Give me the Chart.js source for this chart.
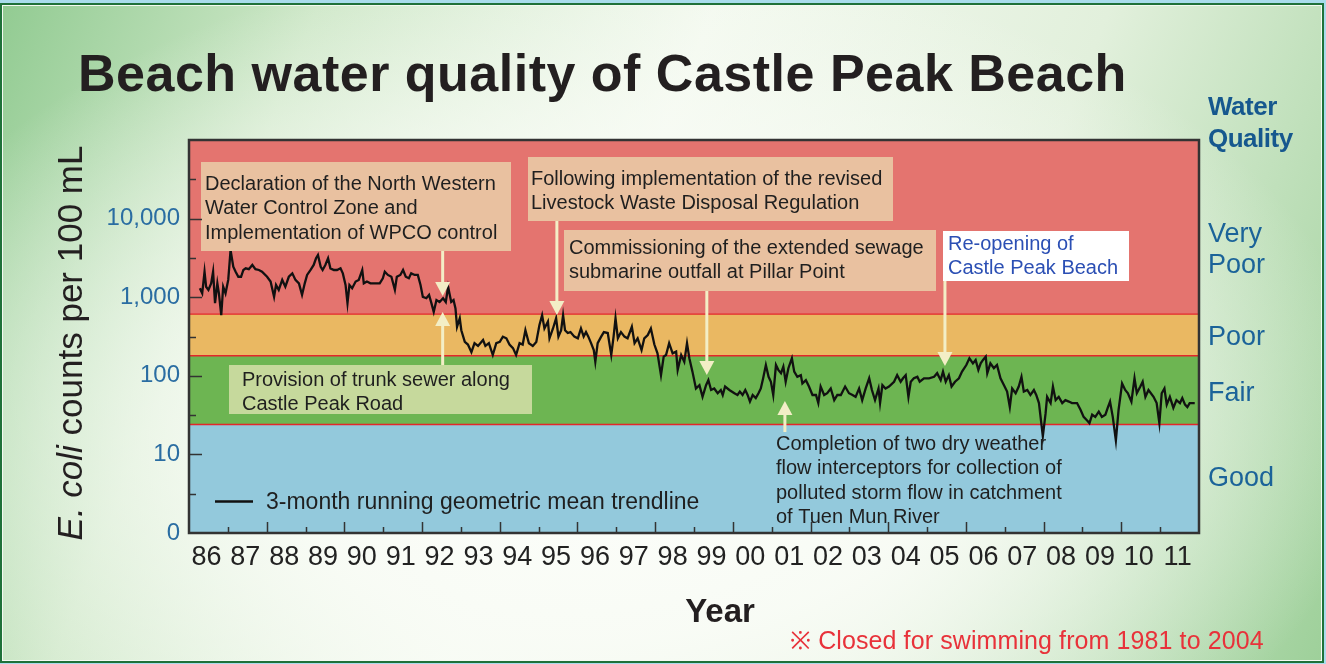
<!DOCTYPE html>
<html>
<head>
<meta charset="utf-8">
<title>Beach water quality of Castle Peak Beach</title>
<script src="https://cdn.jsdelivr.net/npm/chart.js@4.4.1/dist/chart.umd.min.js"></script>
<style>
  html, body { margin: 0; padding: 0; }
  body { position: relative; width: 1326px; height: 664px; overflow: hidden; background: #a9dcec; }
  .frame {
    position: absolute; left: 0; top: 3px; width: 1320px; height: 656px;
    border: 2px solid #1f7139;
    box-shadow: inset 0 0 0 1px #f4faf2;
    background:
      radial-gradient(ellipse 58% 72% at 46% 64%, rgba(253,254,251,1) 0%, rgba(249,252,246,0.95) 45%, rgba(249,252,246,0) 100%),
      linear-gradient(112deg, #92cb92 0%, #cfe8c9 20%, #f3f9ef 45%, #e2f0dc 70%, #9ed09a 100%);
  }
  #chartTrend { position: absolute; left: 0; top: 0; }
</style>
</head>
<body>
<div class="frame"></div>
<canvas id="chartTrend" width="1326" height="664"></canvas>
<script>
/**
 * Castle Peak Beach - E. coli trend (3-month running geometric mean)
 */

// x axis: one label per year, printed in the middle of that year
const yearLabels = ['86', '87', '88', '89', '90', '91', '92', '93', '94', '95', '96', '97', '98',
  '99', '00', '01', '02', '03', '04', '05', '06', '07', '08', '09', '10', '11'];
const firstYear = 1986;

// y axis (log) - the bottom line is labelled 0
const yTickValues = [1, 10, 100, 1000, 10000];
const yTickLabels = ['0', '10', '100', '1,000', '10,000'];
const yMinorTicks = [3.16, 31.6, 316, 3160, 31600];

// grading limits (E. coli per 100 mL): Good | Fair | Poor | Very Poor
const gradeLimits = [24, 180, 610];
const gradeColors = ['#93c9dc', '#6db552', '#eab862', '#e4746f'];

// trendline (decimal year, counts per 100 mL)
const trendYears = [
  1986.28, 1986.34, 1986.40, 1986.44, 1986.50, 1986.57, 1986.62, 1986.67, 1986.73, 1986.77, 1986.83, 1986.88, 1986.94,
  1987.01, 1987.07, 1987.14, 1987.20, 1987.27, 1987.34, 1987.40, 1987.46, 1987.54, 1987.63, 1987.71, 1987.80, 1987.88,
  1988.01, 1988.10, 1988.19, 1988.24, 1988.31, 1988.40, 1988.48, 1988.57, 1988.66, 1988.74, 1988.83, 1988.91, 1988.98,
  1989.04, 1989.13, 1989.21, 1989.27, 1989.32, 1989.39, 1989.44, 1989.51, 1989.58, 1989.64, 1989.73, 1989.81, 1989.90, 1989.96,
  1990.03, 1990.08, 1990.13, 1990.20, 1990.29, 1990.37, 1990.46, 1990.50, 1990.58, 1990.67, 1990.91, 1990.99,
  1991.04, 1991.12, 1991.21, 1991.30, 1991.35, 1991.44, 1991.51, 1991.58, 1991.66, 1991.72, 1991.81, 1991.89, 1991.96,
  1992.02, 1992.11, 1992.18, 1992.24, 1992.30, 1992.37, 1992.45, 1992.54, 1992.61, 1992.67, 1992.75, 1992.81, 1992.86, 1992.90, 1992.97,
  1993.01, 1993.10, 1993.18, 1993.27, 1993.35, 1993.44, 1993.57, 1993.63, 1993.72, 1993.82, 1993.91,
  1994.00, 1994.08, 1994.17, 1994.25, 1994.34, 1994.42, 1994.51, 1994.59, 1994.66, 1994.75, 1994.85, 1994.94,
  1995.02, 1995.09, 1995.15, 1995.24, 1995.28, 1995.37, 1995.45, 1995.51, 1995.58, 1995.63, 1995.68, 1995.75, 1995.82, 1995.92,
  1996.01, 1996.09, 1996.16, 1996.22, 1996.28, 1996.35, 1996.42, 1996.46, 1996.52, 1996.61, 1996.68, 1996.78, 1996.87, 1996.93, 1996.98,
  1997.04, 1997.12, 1997.21, 1997.29, 1997.40, 1997.47, 1997.55, 1997.65, 1997.72, 1997.81, 1997.89, 1997.98,
  1998.06, 1998.15, 1998.22, 1998.28, 1998.36, 1998.45, 1998.54, 1998.58, 1998.67, 1998.75, 1998.82, 1998.88, 1998.96,
  1999.05, 1999.14, 1999.22, 1999.31, 1999.37, 1999.44, 1999.52, 1999.61, 1999.69, 1999.74, 1999.80, 1999.91,
  2000.04, 2000.12, 2000.18, 2000.25, 2000.32, 2000.38, 2000.44, 2000.51, 2000.59, 2000.66, 2000.72, 2000.78, 2000.85, 2000.92, 2000.98,
  2001.04, 2001.11, 2001.17, 2001.24, 2001.30, 2001.36, 2001.43, 2001.52, 2001.58, 2001.66, 2001.75, 2001.79, 2001.88, 2001.96,
  2002.05, 2002.14, 2002.20, 2002.26, 2002.35, 2002.43, 2002.52, 2002.61, 2002.69, 2002.78, 2002.89, 2002.99,
  2003.08, 2003.16, 2003.25, 2003.33, 2003.42, 2003.51, 2003.58, 2003.66, 2003.75, 2003.79, 2003.85, 2003.93,
  2004.02, 2004.15, 2004.23, 2004.32, 2004.38, 2004.45, 2004.52, 2004.58, 2004.66, 2004.75, 2004.81, 2004.92,
  2005.05, 2005.18, 2005.26, 2005.35, 2005.41, 2005.48, 2005.56, 2005.63, 2005.72, 2005.82, 2005.90,
  2006.01, 2006.09, 2006.18, 2006.25, 2006.32, 2006.38, 2006.44, 2006.51, 2006.55, 2006.63, 2006.72, 2006.80, 2006.89, 2006.98,
  2007.06, 2007.13, 2007.19, 2007.28, 2007.36, 2007.43, 2007.49, 2007.58, 2007.66, 2007.75, 2007.81, 2007.88, 2007.98,
  2008.05, 2008.09, 2008.18, 2008.24, 2008.31, 2008.39, 2008.48, 2008.56, 2008.65, 2008.73, 2008.86, 2008.95,
  2009.03, 2009.12, 2009.18, 2009.25, 2009.33, 2009.42, 2009.50, 2009.59, 2009.65, 2009.71, 2009.78, 2009.86, 2009.93,
  2010.02, 2010.10, 2010.17, 2010.26, 2010.34, 2010.40, 2010.49, 2010.55, 2010.62, 2010.70, 2010.83, 2010.91, 2010.98,
  2011.04, 2011.11, 2011.17, 2011.25, 2011.34, 2011.42, 2011.51, 2011.57, 2011.64, 2011.70, 2011.76, 2011.89
];
const trendCounts = [
  1300, 1120, 2110, 1360, 1240, 1500, 2110, 840, 1500, 1120, 590, 1360, 1120,
  1660, 3980, 2440, 2110, 1820, 1820, 2220, 2330, 2270, 2570, 2270, 2220, 2110,
  1820, 1580, 1010, 1430, 1240, 1660, 1360, 1820, 2010, 1660, 1500, 1070, 1500,
  1920, 2220, 2570, 3130, 3440, 2440, 2220, 2570, 3130, 2330, 2220, 2220, 2330, 2010,
  1430, 840, 1430, 1300, 1580, 1660, 2220, 1500, 1580, 1500, 1500, 1740,
  2110, 1920, 1820, 1240, 1820, 1920, 2220, 1820, 1740, 2010, 1920, 1920, 1430,
  1010, 970, 1070, 840, 650, 920, 870, 970, 870, 1360, 870, 920, 720, 420, 540,
  380, 270, 250, 200, 260, 240, 285, 240, 260, 184, 260,
  270, 315, 300, 250, 225, 184, 260, 250, 380, 260, 240, 270,
  440, 590, 400, 490, 300, 400, 540, 315, 380, 590, 380, 350, 360, 315,
  300, 400, 315, 360, 315, 260, 213, 151, 260, 315, 360, 350, 184, 315, 540,
  300, 360, 315, 300, 420, 260, 300, 213, 300, 330, 400, 250,
  193, 102, 175, 184, 260, 193, 203, 119, 184, 151, 260, 167, 113,
  69, 76, 54, 76, 88, 66, 69, 60, 66, 57, 73, 66,
  60, 57, 63, 57, 66, 57, 47, 57, 52, 60, 69, 93, 137, 97, 84,
  57, 137, 119, 108, 131, 84, 125, 167, 113, 97, 102, 80, 88, 73,
  57, 57, 45, 73, 57, 60, 69, 49, 57, 57, 73, 60,
  57, 54, 69, 49, 69, 93, 66, 49, 69, 45, 76, 69,
  73, 84, 102, 84, 93, 102, 54, 84, 93, 97, 84, 93,
  93, 97, 108, 88, 113, 84, 102, 73, 84, 93, 113,
  137, 167, 144, 159, 119, 144, 159, 175, 108, 144, 125, 137, 93, 76,
  63, 40, 69, 60, 73, 97, 63, 66, 57, 66, 57, 45, 17,
  33, 54, 45, 73, 49, 54, 45, 49, 47, 45, 45, 37,
  30, 27, 25, 32, 30, 35, 30, 32, 39, 47, 30, 15, 37,
  80, 66, 60, 47, 93, 60, 73, 84, 54, 66, 54, 45, 25,
  60, 69, 43, 54, 39, 49, 45, 52, 43, 40, 45, 45
];

// event call-outs on the chart (layout only)
const callouts = [
  { lines: ['Declaration of the North Western', 'Water Control Zone and', 'Implementation of WPCO control'],
    box: [201, 162, 511, 251], fill: '#e9c1a0', color: '#1f1f1f', textX: 205, baseline: 190 },
  { lines: ['Following implementation of the revised', 'Livestock Waste Disposal Regulation'],
    box: [528, 157, 893, 221], fill: '#e9c1a0', color: '#1f1f1f', textX: 531, baseline: 185 },
  { lines: ['Commissioning of the extended sewage', 'submarine outfall at Pillar Point'],
    box: [564, 230, 936, 291], fill: '#e9c1a0', color: '#1f1f1f', textX: 569, baseline: 254 },
  { lines: ['Re-opening of', 'Castle Peak Beach'],
    box: [943, 231, 1129, 281], fill: '#ffffff', color: '#2b4fb4', textX: 948, baseline: 250 },
  { lines: ['Provision of trunk sewer along', 'Castle Peak Road'],
    box: [229, 365, 532, 414], fill: '#c6d99c', color: '#1f1f1f', textX: 242, baseline: 386 },
  { lines: ['Completion of two dry weather', 'flow interceptors for collection of', 'polluted storm flow in catchment', 'of Tuen Mun River'],
    box: null, color: '#1f1f1f', textX: 776, baseline: 450 }
];
// arrows: x in years, y in pixels (start -> tip)
const arrows = [
  { year: 1992.53, from: 251, to: 296 },
  { year: 1992.53, from: 365, to: 312 },
  { year: 1995.47, from: 221, to: 315 },
  { year: 1999.33, from: 291, to: 375 },
  { year: 2005.46, from: 281, to: 366 },
  { year: 2001.34, from: 432, to: 401 }
];

const FONT = '"Liberation Sans", Arial, Helvetica, sans-serif';
const NARROW = '"Liberation Sans Narrow", "Arial Narrow", "Liberation Sans", Arial, sans-serif';

function drawArrow(ctx, x, from, to) {
  const dir = to > from ? 1 : -1;
  const head = 14;
  ctx.strokeStyle = '#f3eec6';
  ctx.fillStyle = '#f3eec6';
  ctx.lineWidth = 3;
  ctx.beginPath();
  ctx.moveTo(x, from);
  ctx.lineTo(x, to - dir * head);
  ctx.stroke();
  ctx.beginPath();
  ctx.moveTo(x - 7.5, to - dir * head);
  ctx.lineTo(x + 7.5, to - dir * head);
  ctx.lineTo(x, to);
  ctx.closePath();
  ctx.fill();
}

const bandsPlugin = {
  id: 'bands',
  beforeDatasetsDraw(chart) {
    const { ctx, chartArea: a, scales: { y } } = chart;
    const edges = [y.min, ...gradeLimits, y.max].map(v => y.getPixelForValue(v));
    ctx.save();
    for (let i = 0; i < gradeColors.length; i++) {
      ctx.fillStyle = gradeColors[i];
      ctx.fillRect(a.left, edges[i + 1], a.right - a.left, edges[i] - edges[i + 1]);
    }
    ctx.strokeStyle = '#e3262a';
    ctx.lineWidth = 1.3;
    gradeLimits.forEach(v => {
      const py = y.getPixelForValue(v);
      ctx.beginPath();
      ctx.moveTo(a.left, py);
      ctx.lineTo(a.right, py);
      ctx.stroke();
    });
    ctx.restore();
  }
};

const decorPlugin = {
  id: 'decor',
  afterDatasetsDraw(chart) {
    const { ctx, chartArea: a, scales: { x, y } } = chart;
    ctx.save();

    // arrows first, boxes sit on top of their tails
    arrows.forEach(ar => drawArrow(ctx, x.getPixelForValue(ar.year), ar.from, ar.to));

    ctx.font = '20px ' + FONT;
    ctx.textBaseline = 'alphabetic';
    ctx.textAlign = 'left';
    callouts.forEach(c => {
      if (c.box) {
        ctx.fillStyle = c.fill;
        ctx.fillRect(c.box[0], c.box[1], c.box[2] - c.box[0], c.box[3] - c.box[1]);
      }
      ctx.fillStyle = c.color;
      c.lines.forEach((line, i) => ctx.fillText(line, c.textX, c.baseline + i * 24.4));
    });

    // legend inside the plot
    ctx.strokeStyle = '#111';
    ctx.lineWidth = 2.5;
    ctx.beginPath();
    ctx.moveTo(215, 501.5);
    ctx.lineTo(253, 501.5);
    ctx.stroke();
    ctx.fillStyle = '#1f1f1f';
    ctx.font = '23px ' + FONT;
    ctx.fillText(chart.data.datasets[0].label, 266, 509);

    // inward tick marks
    ctx.strokeStyle = '#333';
    ctx.lineWidth = 1.5;
    for (let yr = firstYear + 1; yr < firstYear + yearLabels.length; yr++) {
      const px = Math.round(x.getPixelForValue(yr)) + 0.5;
      const len = yr % 2 === 0 ? 11 : 6;
      ctx.beginPath();
      ctx.moveTo(px, a.bottom);
      ctx.lineTo(px, a.bottom - len);
      ctx.stroke();
    }
    yTickValues.slice(1).forEach(v => {
      const py = Math.round(y.getPixelForValue(v)) + 0.5;
      ctx.beginPath();
      ctx.moveTo(a.left, py);
      ctx.lineTo(a.left + 13, py);
      ctx.stroke();
    });
    yMinorTicks.forEach(v => {
      const py = Math.round(y.getPixelForValue(v)) + 0.5;
      ctx.beginPath();
      ctx.moveTo(a.left, py);
      ctx.lineTo(a.left + 7, py);
      ctx.stroke();
    });

    // plot frame
    ctx.strokeStyle = '#333';
    ctx.lineWidth = 2.5;
    ctx.strokeRect(a.left, a.top, a.right - a.left, a.bottom - a.top);
    ctx.restore();
  },
  afterDraw(chart) {
    const { ctx } = chart;
    ctx.save();
    ctx.textAlign = 'left';
    ctx.textBaseline = 'alphabetic';

    // title
    ctx.fillStyle = '#231f20';
    ctx.font = 'bold 52px ' + FONT;
    ctx.letterSpacing = '0.5px';
    ctx.fillText('Beach water quality of Castle Peak Beach', 78, 91);
    ctx.letterSpacing = '0px';

    // y axis title, "E. coli" in italics
    ctx.translate(82, 343);
    ctx.rotate(-Math.PI / 2);
    const italicPart = 'E. coli';
    const plainPart = ' counts per 100 mL';
    ctx.font = 'italic 35px ' + FONT;
    const w1 = ctx.measureText(italicPart).width;
    ctx.font = '35px ' + FONT;
    const w2 = ctx.measureText(plainPart).width;
    const start = -(w1 + w2) / 2;
    ctx.font = 'italic 35px ' + FONT;
    ctx.fillText(italicPart, start, 0);
    ctx.font = '35px ' + FONT;
    ctx.fillText(plainPart, start + w1, 0);
    ctx.setTransform(1, 0, 0, 1, 0, 0);

    // x axis title
    ctx.textAlign = 'center';
    ctx.font = 'bold 33px ' + FONT;
    ctx.fillText('Year', 720, 622);

    // grade names on the right
    ctx.textAlign = 'left';
    ctx.fillStyle = '#16588e';
    ctx.font = 'bold 26px ' + FONT;
    ctx.letterSpacing = '-0.5px';
    ctx.fillText('Water', 1208, 115);
    ctx.fillText('Quality', 1208, 147);
    ctx.letterSpacing = '0px';
    ctx.fillStyle = '#1b6399';
    ctx.font = '27px ' + FONT;
    [['Very', 242], ['Poor', 273], ['Poor', 345], ['Fair', 401], ['Good', 486]]
      .forEach(([t, by]) => ctx.fillText(t, 1208, by));

    // footnote
    ctx.fillStyle = '#e8323a';
    ctx.font = '25px ' + FONT;
    ctx.letterSpacing = '0.1px';
    ctx.fillText('\u203B Closed for swimming from 1981 to 2004', 790, 649);
    ctx.restore();
  }
};

function renderTrendChart() {
  const ctx = document.getElementById('chartTrend');
  if (!ctx) return;
  const points = trendYears.map((yr, i) => ({ x: yr, y: trendCounts[i] }));

  new Chart(ctx, {
    type: 'line',
    data: {
      datasets: [{
        label: '3-month running geometric mean trendline',
        data: points,
        borderColor: '#111111',
        borderWidth: 2.3,
        pointRadius: 0,
        tension: 0,
        fill: false
      }]
    },
    options: {
      responsive: false,
      animation: false,
      events: [],
      layout: { padding: { top: 140, right: 127, bottom: 0, left: 0 } },
      plugins: {
        legend: { display: false },
        tooltip: { enabled: false }
      },
      scales: {
        x: {
          type: 'linear',
          min: firstYear,
          max: firstYear + yearLabels.length,
          afterBuildTicks: scale => {
            scale.ticks = yearLabels.map((_, i) => ({ value: firstYear + i + 0.45 }));
          },
          afterFit: scale => { scale.height = 131; },
          ticks: {
            autoSkip: false,
            maxRotation: 0,
            minRotation: 0,
            padding: 8,
            color: '#222',
            font: { family: NARROW, size: 27 },
            callback: (value, index) => yearLabels[index]
          },
          grid: { display: false, drawTicks: false },
          border: { display: false }
        },
        y: {
          type: 'logarithmic',
          min: 1,
          max: 100000,
          afterBuildTicks: scale => {
            scale.ticks = yTickValues.map(v => ({ value: v }));
          },
          afterFit: scale => { scale.width = 189; },
          ticks: {
            padding: 9,
            color: '#2a6da2',
            font: { family: FONT, size: 24 },
            callback: (value, index) => yTickLabels[index]
          },
          grid: { display: false, drawTicks: false },
          border: { display: false }
        }
      }
    },
    plugins: [bandsPlugin, decorPlugin]
  });
}

renderTrendChart();
</script>
</body>
</html>
